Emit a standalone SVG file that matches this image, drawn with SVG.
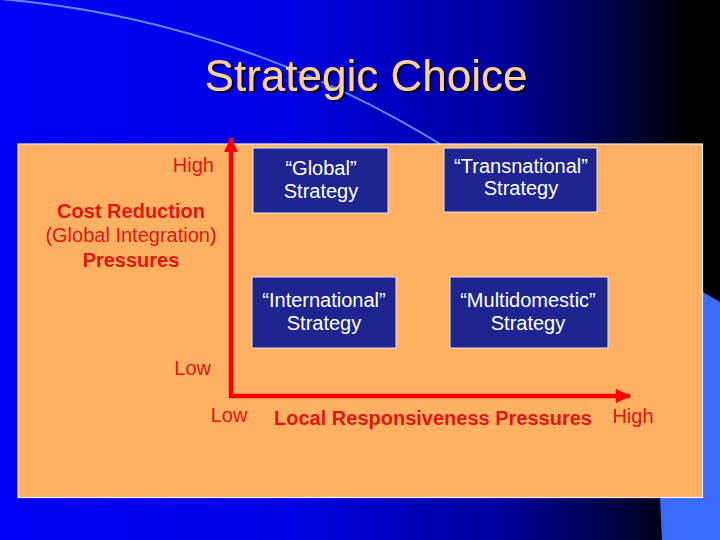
<svg xmlns="http://www.w3.org/2000/svg" width="720" height="540" viewBox="0 0 720 540">
<defs>
<linearGradient id="bg" x1="0" y1="0" x2="720" y2="0" gradientUnits="userSpaceOnUse">
<stop offset="0" stop-color="#0000F8"/>
<stop offset="0.4" stop-color="#0000E4"/>
<stop offset="0.7" stop-color="#00009C"/>
<stop offset="0.88" stop-color="#000034"/>
<stop offset="0.96" stop-color="#000000"/>
</linearGradient>
<marker id="arr" markerUnits="userSpaceOnUse" markerWidth="16" markerHeight="16" refX="14" refY="7" orient="auto">
<path d="M0,0 L15,7 L0,14 Z" fill="#FF0000"/>
</marker>
<filter id="sh" x="-5%" y="-20%" width="110%" height="140%">
<feDropShadow dx="2" dy="2" stdDeviation="0.6" flood-color="#000000" flood-opacity="0.8"/>
</filter>
</defs>
<style>
.lbl{font-family:"Liberation Sans",Arial,sans-serif;font-size:20px;fill:#E3160A}
.b{font-weight:bold}
.box{fill:#1E2590;stroke:#E6E6F0;stroke-width:1}
.bt{font-family:"Liberation Sans",Arial,sans-serif;font-size:20px;fill:#FFFFFF;text-anchor:middle}
.axis{stroke:#FF0000;stroke-width:4.5;fill:none}
</style>
<rect x="0" y="0" width="720" height="540" fill="url(#bg)"/>
<path d="M-12,-2 A1003,1003 0 0 1 480,170" fill="none" stroke="#5C8CFF" stroke-width="2"/>
<polygon points="650,290 703,292 720,302 720,540 662,540" fill="#3A6BFF"/>
<rect x="18" y="144" width="684.5" height="353.5" fill="#FFB063" stroke="#F4F0EA" stroke-width="1.2"/>
<text x="366" y="91" font-family="'Liberation Sans',Arial,sans-serif" font-size="44" fill="#FFD09A" text-anchor="middle" filter="url(#sh)">Strategic Choice</text>
<g id="connectors">
<line class="axis" x1="231" y1="398" x2="231" y2="138" marker-end="url(#arr)"/>
<line class="axis" x1="229" y1="396" x2="630" y2="396" marker-end="url(#arr)"/>
</g>
<g id="y-axis-labels">
<text class="lbl" x="214" y="172" text-anchor="end" font-size="19">High</text>
<text class="lbl b" x="131" y="218" text-anchor="middle">Cost Reduction</text>
<text class="lbl" x="131" y="242" text-anchor="middle">(Global Integration)</text>
<text class="lbl b" x="131" y="267" text-anchor="middle">Pressures</text>
<text class="lbl" x="211" y="375" text-anchor="end" font-size="19">Low</text>
</g>
<g id="x-axis-labels">
<text class="lbl" x="229" y="422" text-anchor="middle" font-size="19">Low</text>
<text class="lbl b" x="433" y="425" text-anchor="middle">Local Responsiveness Pressures</text>
<text class="lbl" x="633" y="423" text-anchor="middle" font-size="19">High</text>
</g>
<g id="global">
<rect class="box" x="253" y="148" width="135" height="65"/>
<text class="bt" x="321" y="175">“Global”</text>
<text class="bt" x="321" y="198">Strategy</text>
</g>
<g id="transnational">
<rect class="box" x="444" y="148" width="153" height="64"/>
<text class="bt" x="521" y="173">“Transnational”</text>
<text class="bt" x="521" y="195">Strategy</text>
</g>
<g id="international">
<rect class="box" x="252" y="277" width="144" height="71"/>
<text class="bt" x="324" y="307">“International”</text>
<text class="bt" x="324" y="330">Strategy</text>
</g>
<g id="multidomestic">
<rect class="box" x="450" y="277" width="158" height="71"/>
<text class="bt" x="528" y="307">“Multidomestic”</text>
<text class="bt" x="528" y="330">Strategy</text>
</g>
</svg>
